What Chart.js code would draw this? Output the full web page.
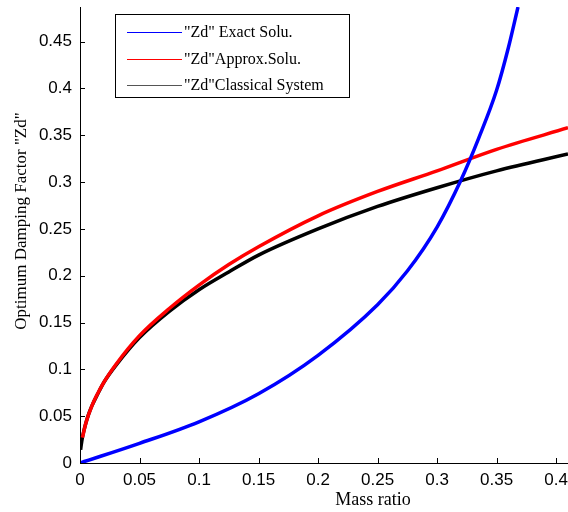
<!DOCTYPE html>
<html>
<head>
<meta charset="utf-8">
<script src="https://cdn.jsdelivr.net/npm/chart.js@4"></script>
<style>
  html, body { margin: 0; padding: 0; background: #fff; }
</style>
</head>
<body>
<canvas id="chart" width="568" height="512"></canvas>
<script>
// Mass ratio values and damping factors
const xExact = [0, 0.05, 0.1, 0.15, 0.2, 0.25, 0.275, 0.3, 0.32, 0.335, 0.35, 0.36, 0.368];
const yExact = [0, 0.021, 0.044, 0.074, 0.115, 0.169, 0.205, 0.252, 0.302, 0.347, 0.398, 0.444, 0.487];

const xApprox = [0.002, 0.005, 0.01, 0.02, 0.03, 0.05, 0.075, 0.1, 0.125, 0.15, 0.2, 0.25, 0.3, 0.35, 0.41];
const yApprox = [0.027, 0.043, 0.061, 0.086, 0.105, 0.136, 0.165, 0.190, 0.212, 0.231, 0.264, 0.290, 0.312, 0.335, 0.358];

const xClassic = [0.0005, 0.001, 0.002, 0.003, 0.005, 0.0075, 0.01, 0.015, 0.02, 0.03, 0.05, 0.075, 0.1, 0.125, 0.15, 0.2, 0.25, 0.3, 0.35, 0.41];
const yClassic = [0.014, 0.019, 0.027, 0.033, 0.043, 0.053, 0.061, 0.074, 0.086, 0.104, 0.134, 0.162, 0.185, 0.204, 0.222, 0.250, 0.274, 0.294, 0.312, 0.330];

const seriesNames = ['"Zd" Exact Solu.', '"Zd"Approx.Solu.', '"Zd"Classical System'];
const seriesColors = ['#0000ff', '#ff0000', '#000000'];
const legendColors = ['#0000ff', '#ff0000', '#555555'];

function toPoints(xs, ys) {
    return xs.map((x, i) => ({ x: x, y: ys[i] }));
}

// Inward tick marks, axis titles and the boxed legend
const decorations = {
    id: 'decorations',
    afterDraw(chart) {
        const ctx = chart.ctx;
        const xs = chart.scales.x, ys = chart.scales.y;
        const area = chart.chartArea;
        ctx.save();
        ctx.strokeStyle = '#000';
        ctx.lineWidth = 1;
        ctx.beginPath();
        xs.ticks.forEach(t => {
            const px = Math.round(xs.getPixelForValue(t.value)) + 0.5;
            ctx.moveTo(px, area.bottom);
            ctx.lineTo(px, area.bottom - 5);
        });
        ys.ticks.forEach(t => {
            const py = Math.round(ys.getPixelForValue(t.value)) + 0.5;
            ctx.moveTo(area.left, py);
            ctx.lineTo(area.left + 5, py);
        });
        ctx.stroke();

        // legend box
        ctx.fillStyle = '#fff';
        ctx.fillRect(115, 14, 235, 84);
        ctx.strokeRect(115.5, 14.5, 234, 83);
        ctx.font = '16px "Liberation Serif", "Times New Roman", serif';
        ctx.textAlign = 'left';
        ctx.textBaseline = 'middle';
        seriesNames.forEach((name, i) => {
            const y = 32 + i * 26.5;
            ctx.strokeStyle = legendColors[i];
            ctx.lineWidth = 1.2;
            ctx.beginPath();
            ctx.moveTo(127, Math.round(y) + 0.5);
            ctx.lineTo(182, Math.round(y) + 0.5);
            ctx.stroke();
            ctx.fillStyle = '#000';
            ctx.fillText(name, 184, y + 1);
        });

        // axis titles
        ctx.fillStyle = '#000';
        ctx.font = '18px "Liberation Serif", "Times New Roman", serif';
        ctx.textAlign = 'center';
        ctx.textBaseline = 'alphabetic';
        ctx.fillText('Mass ratio', 373, 505);
        ctx.translate(26, 221);
        ctx.rotate(-Math.PI / 2);
        ctx.font = '17px "Liberation Serif", "Times New Roman", serif';
        ctx.fillText('Optimum Damping Factor "Zd"', 0, 0);
        ctx.restore();
    }
};

const tickFont = { family: '"Liberation Sans", Arial, sans-serif', size: 17 };

new Chart(document.getElementById('chart'), {
    type: 'line',
    data: {
        datasets: [
            { label: seriesNames[0], data: toPoints(xExact, yExact), borderColor: seriesColors[0], backgroundColor: seriesColors[0] },
            { label: seriesNames[1], data: toPoints(xApprox, yApprox), borderColor: seriesColors[1], backgroundColor: seriesColors[1] },
            { label: seriesNames[2], data: toPoints(xClassic, yClassic), borderColor: seriesColors[2], backgroundColor: seriesColors[2] }
        ].map(d => Object.assign(d, {
            borderWidth: 3.5,
            pointRadius: 0,
            fill: false,
            cubicInterpolationMode: 'monotone'
        }))
    },
    options: {
        responsive: false,
        animation: false,
        layout: { padding: { top: 7, right: 0, left: 0, bottom: 0 } },
        plugins: { legend: { display: false }, tooltip: { enabled: false } },
        scales: {
            x: {
                type: 'linear',
                min: 0,
                max: 0.41,
                grid: { display: true, drawOnChartArea: false, drawTicks: false },
                border: { display: true, color: '#000', width: 1 },
                ticks: {
                    stepSize: 0.05,
                    includeBounds: false,
                    padding: 7,
                    color: '#000',
                    font: tickFont,
                    maxRotation: 0,
                    callback: v => String(Number(v.toFixed(2)))
                },
                afterFit: s => { s.height = 49; s.paddingLeft = 0; s.paddingRight = 0; }
            },
            y: {
                type: 'linear',
                min: 0,
                max: 0.487,
                grid: { display: true, drawOnChartArea: false, drawTicks: false },
                border: { display: true, color: '#000', width: 1 },
                ticks: {
                    stepSize: 0.05,
                    includeBounds: false,
                    padding: 8,
                    color: '#000',
                    font: tickFont,
                    callback: v => String(Number(v.toFixed(2)))
                },
                afterFit: s => { s.width = 80; s.paddingTop = 0; s.paddingBottom = 0; }
            }
        }
    },
    plugins: [decorations]
});
</script>
</body>
</html>
